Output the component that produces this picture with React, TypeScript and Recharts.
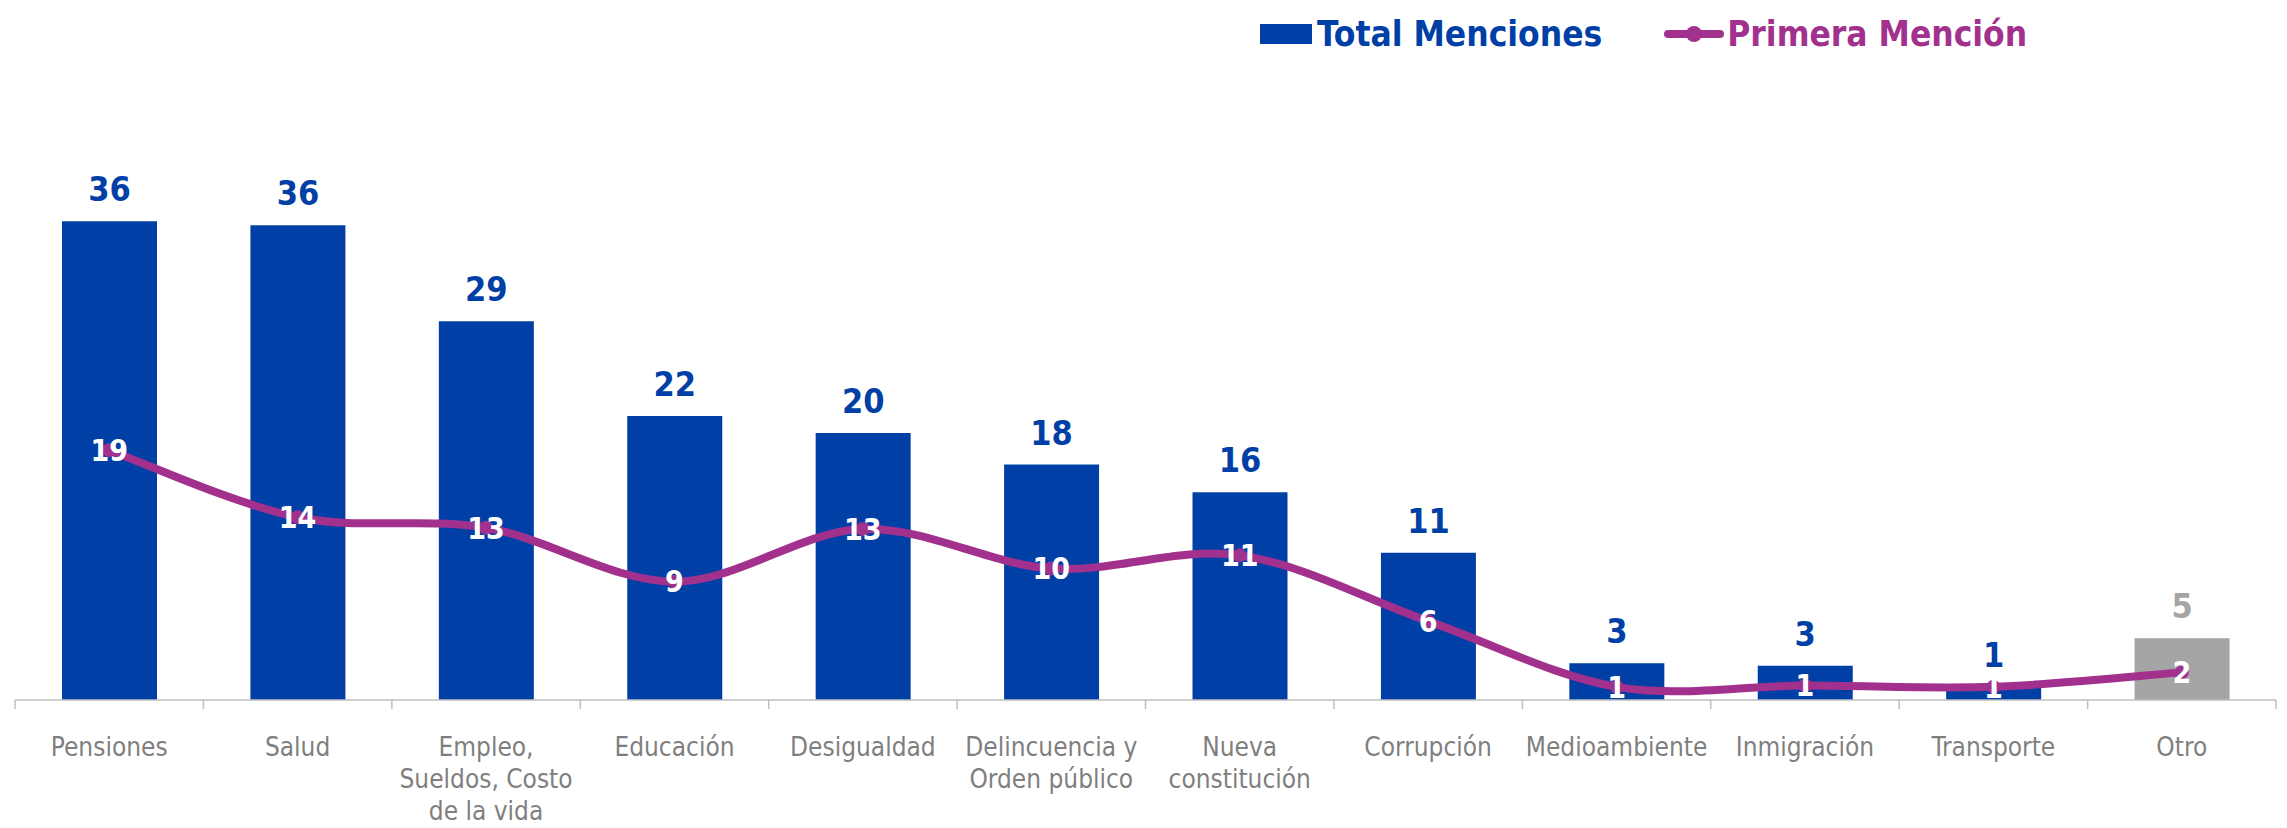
import { Bar, Cell, LabelList, Legend, Line, XAxis, YAxis, ComposedChart } from 'recharts';

const CATEGORIES = [
  'Pensiones',
  'Salud',
  'Empleo,\nSueldos, Costo\nde la vida',
  'Educación',
  'Desigualdad',
  'Delincuencia y\nOrden público',
  'Nueva\nconstitución',
  'Corrupción',
  'Medioambiente',
  'Inmigración',
  'Transporte',
  'Otro',
];
const TOTAL_MENCIONES = [36.4, 36.1, 28.8, 21.6, 20.3, 17.9, 15.8, 11.2, 2.8, 2.6, 1.0, 4.7];
const PRIMERA_MENCION = [19.0, 13.9, 13.1, 9.0, 13.0, 10.0, 11.0, 6.0, 1.0, 1.1, 1.0, 2.1];
const Y_DOMAIN = [0, 40];

const BLUE = '#003FA6';
const GREY = '#A5A5A5';
const PURPLE = '#A2318E';
const AXIS_GREY = '#BFBFBF';
const TEXT_GREY = '#7F7F7F';
const FONT = "'DejaVu Sans Condensed', 'DejaVu Sans', sans-serif";

const data = CATEGORIES.map((name, i) => ({
  name,
  total: TOTAL_MENCIONES[i],
  primera: PRIMERA_MENCION[i],
}));

const isOther = (i: number) => CATEGORIES[i] === 'Otro';

// excel-like smoothed line (catmull-rom as bezier)
function smoothCurve(context: any) {
  let pts: number[][] = [];
  return {
    areaStart() {},
    areaEnd() {},
    lineStart() {
      pts = [];
    },
    point(x: number, y: number) {
      pts.push([+x, +y]);
    },
    lineEnd() {
      if (!pts.length) return;
      context.moveTo(pts[0][0], pts[0][1]);
      for (let i = 0; i < pts.length - 1; i++) {
        const p0 = pts[i - 1] ?? pts[i];
        const p1 = pts[i];
        const p2 = pts[i + 1];
        const p3 = pts[i + 2] ?? p2;
        context.bezierCurveTo(
          p1[0] + (p2[0] - p0[0]) / 6,
          p1[1] + (p2[1] - p0[1]) / 6,
          p2[0] - (p3[0] - p1[0]) / 6,
          p2[1] - (p3[1] - p1[1]) / 6,
          p2[0],
          p2[1],
        );
      }
    },
  };
}

function CategoryTick(props: any) {
  const { x, y, payload, index } = props;
  const half = payload.offset || 94;
  const lines = String(payload.value).split('\n');
  return (
    <g>
      <line x1={x - half} x2={x - half} y1={y} y2={y + 9} stroke={AXIS_GREY} strokeWidth={1.5} />
      {index === CATEGORIES.length - 1 && (
        <line x1={x + half} x2={x + half} y1={y} y2={y + 9} stroke={AXIS_GREY} strokeWidth={1.5} />
      )}
      <text x={x} y={y + 56} textAnchor="middle" fill={TEXT_GREY} fontSize={26} fontFamily={FONT}>
        {lines.map((l, i) => (
          <tspan key={i} x={x} dy={i === 0 ? 0 : 32}>
            {l}
          </tspan>
        ))}
      </text>
    </g>
  );
}

function BarValue(props: any) {
  const { x, y, width, value, index } = props;
  return (
    <text
      x={x + width / 2}
      y={y - 20}
      textAnchor="middle"
      fill={isOther(index) ? GREY : BLUE}
      fontSize={34}
      fontWeight="bold"
      fontFamily={FONT}
    >
      {Math.round(value)}
    </text>
  );
}

function LineValue(props: any) {
  const { x, y, value } = props;
  return (
    <text x={x} y={y} dy="0.36em" textAnchor="middle" fill="#fff" fontSize={30} fontWeight="bold" fontFamily={FONT}>
      {Math.round(value)}
    </text>
  );
}

function renderLegend() {
  return (
    <div style={{ display: 'flex', alignItems: 'center', fontFamily: FONT, fontWeight: 'bold', fontSize: 35 }}>
      <span style={{ display: 'inline-block', width: 52, height: 20, background: BLUE, marginRight: 5 }} />
      <span style={{ color: BLUE, marginRight: 62 }}>Total Menciones</span>
      <svg width={60} height={20} style={{ marginRight: 3 }}>
        <line x1={4} x2={56} y1={10} y2={10} stroke={PURPLE} strokeWidth={8} strokeLinecap="round" />
        <circle cx={30} cy={10} r={8} fill={PURPLE} />
      </svg>
      <span style={{ color: PURPLE }}>Primera Mención</span>
    </div>
  );
}

export default function App() {
  return (
    <div style={{ margin: -8, height: 828, overflow: 'hidden' }}>
      <ComposedChart
        width={2287}
        height={828}
        data={data}
        margin={{ top: 174, right: 11, bottom: 18, left: 15 }}
        barSize={95}
      >
        <XAxis
          dataKey="name"
          interval={0}
          height={110}
          tickLine={false}
          tickSize={0}
          tickMargin={0}
          axisLine={{ stroke: AXIS_GREY, strokeWidth: 1.5 }}
          tick={<CategoryTick />}
        />
        <YAxis hide domain={Y_DOMAIN} />
        <Legend
          layout="vertical"
          align="center"
          verticalAlign="middle"
          wrapperStyle={{ top: 14, left: 1260, width: 900 }}
          content={renderLegend}
        />
        <Bar dataKey="total" name="Total Menciones" isAnimationActive={false}>
          {data.map((d, i) => (
            <Cell key={d.name} fill={isOther(i) ? GREY : BLUE} />
          ))}
          <LabelList dataKey="total" content={<BarValue />} />
        </Bar>
        <Line
          dataKey="primera"
          name="Primera Mención"
          type={smoothCurve as any}
          stroke={PURPLE}
          strokeWidth={8}
          dot={{ r: 7, fill: PURPLE, stroke: 'none' }}
          activeDot={false}
          isAnimationActive={false}
        >
          <LabelList dataKey="primera" content={<LineValue />} />
        </Line>
      </ComposedChart>
    </div>
  );
}
